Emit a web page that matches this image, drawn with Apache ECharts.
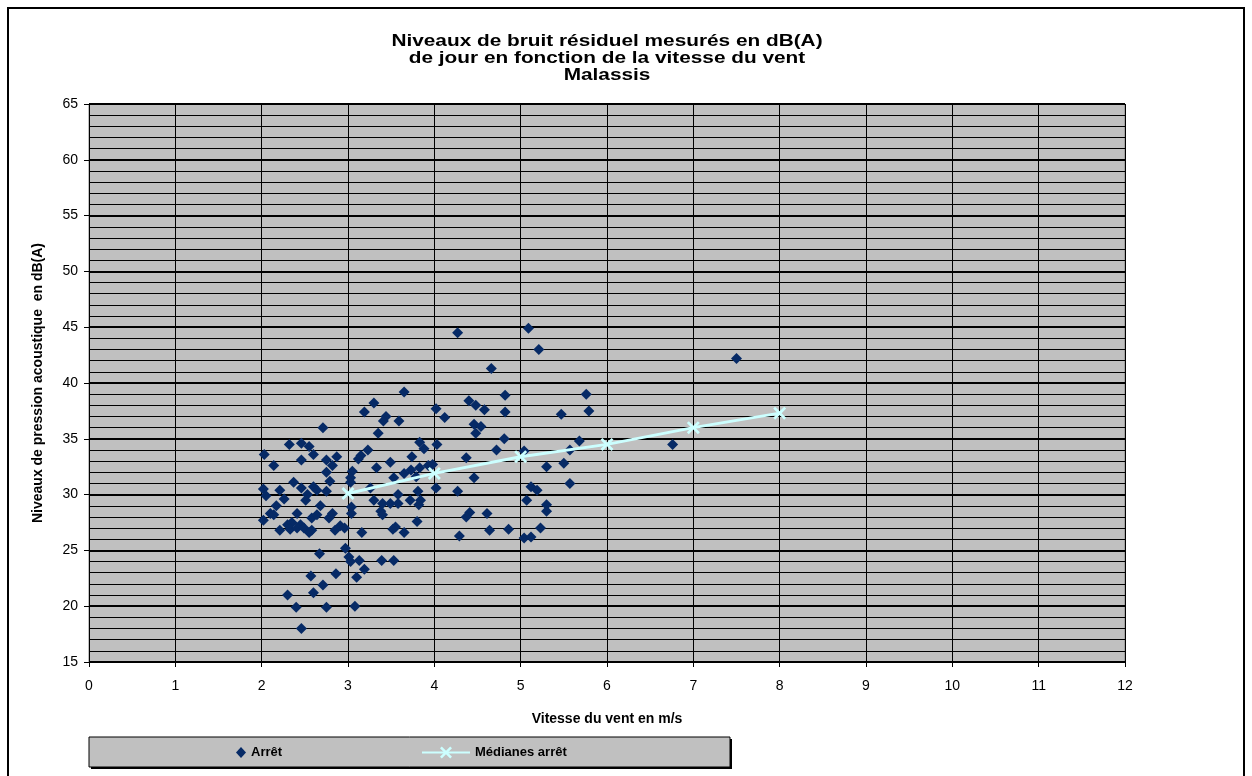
<!DOCTYPE html>
<html>
<head>
<meta charset="utf-8">
<script src="https://cdn.jsdelivr.net/npm/echarts@6/dist/echarts.min.js"></script>
<style>
  html, body { margin: 0; padding: 0; background: #ffffff; }
  #chart { width: 1252px; height: 776px; }
</style>
</head>
<body>
<div id="chart"></div>
<script>
// Wind speed (m/s) of each "Arrêt" measurement
const arretSpeed = [
  2.71, 2.32, 2.46, 2.55, 2.60, 2.03, 2.14, 2.46, 2.75, 2.87, 2.82, 2.75, 2.79, 2.37, 2.46,
  2.60, 2.64, 2.02, 2.05, 2.21, 2.26, 2.53, 2.51, 2.75, 2.17, 2.68, 2.10, 2.14, 2.02, 2.41,
  2.58, 2.64, 2.78, 2.82, 2.30, 2.35, 2.45, 2.33, 2.21, 2.41, 2.49, 2.55, 2.58, 2.85, 2.91,
  2.96, 2.67, 2.97, 3.01, 3.03, 2.57, 2.86, 2.71, 2.60, 2.30, 2.40, 2.75, 3.08, 2.46, 3.10,
  3.65, 3.30, 3.19, 3.44, 3.41, 3.59, 4.02, 4.12, 3.35, 3.83, 3.88, 4.03, 3.23, 3.15, 3.12,
  3.74, 3.49, 3.33, 3.05, 3.03, 3.03, 3.53, 3.65, 3.73, 3.79, 3.93, 3.98, 3.26, 3.30, 3.40,
  3.49, 3.58, 3.58, 3.72, 3.81, 3.84, 3.82, 4.02, 3.38, 3.40, 3.04, 3.04, 3.80, 3.16, 3.52,
  3.55, 3.65, 3.13, 3.19, 3.39, 3.53, 3.83,
  4.27, 5.09, 5.21, 4.66, 4.82, 4.40, 4.48, 4.58, 4.82, 4.46, 4.54, 4.48, 4.81, 4.72, 4.37,
  5.04, 4.46, 4.27, 5.12, 5.19, 5.07, 4.41, 4.37, 4.61, 4.29, 4.64, 4.86, 5.04, 5.12, 5.23,
  7.50, 5.76, 5.79, 5.47, 5.68, 5.57, 6.76, 5.50, 5.30, 5.57, 5.30, 5.30
];
// Measured residual noise level (dB(A)) for each point above
const arretLevel = [
  36.0, 34.5, 34.6, 34.3, 33.6, 33.6, 32.6, 33.1, 33.1, 33.4, 32.6, 32.0, 31.2, 31.1, 30.6,
  30.7, 30.4, 30.5, 29.9, 30.4, 29.6, 30.0, 29.5, 30.3, 29.0, 29.0, 28.3, 28.2, 27.7, 28.3,
  27.9, 28.2, 27.9, 28.3, 27.3, 27.5, 27.3, 26.9, 26.8, 27.0, 27.0, 26.6, 26.8, 26.8, 27.2,
  27.0, 24.7, 25.2, 24.4, 24.0, 22.7, 22.9, 21.9, 21.2, 21.0, 19.9, 19.9, 20.0, 18.0, 22.6,
  39.2, 38.2, 37.4, 37.0, 36.6, 36.6, 37.7, 36.9, 35.5, 34.7, 34.1, 34.5, 34.0, 33.5, 33.2,
  33.4, 32.9, 32.4, 32.1, 31.5, 31.1, 31.5, 31.9, 32.2, 31.6, 32.6, 32.7, 30.6, 29.5, 29.2,
  29.2, 30.0, 29.2, 29.5, 30.3, 29.5, 29.1, 30.6, 28.5, 28.2, 28.9, 28.3, 27.6, 26.6, 26.9,
  27.1, 26.6, 24.1, 23.3, 24.1, 24.1, 32.4,
  44.5, 44.9, 43.0, 41.3, 38.9, 38.4, 38.0, 37.6, 37.4, 36.3, 36.1, 35.5, 35.0, 34.0, 33.3,
  33.9, 31.5, 30.3, 30.7, 30.4, 29.5, 28.4, 28.0, 28.3, 26.3, 26.8, 26.9, 26.1, 26.2, 27.0,
  42.2, 39.0, 37.5, 37.2, 34.8, 34.0, 34.5, 32.8, 32.5, 31.0, 29.1, 28.5
];
// Median level per integer wind speed class
const medianSpeed = [3, 4, 5, 6, 7, 8];
const medianLevel = [30.1, 31.9, 33.4, 34.5, 36.0, 37.3];

const titleLines = [
  'Niveaux de bruit résiduel mesurés en dB(A)',
  'de jour en fonction de la vitesse du vent',
  'Malassis'
];
const xAxisTitle = 'Vitesse du vent en m/s';
const yAxisTitle = 'Niveaux de pression acoustique  en dB(A)';
const seriesNames = ['Arrêt', 'Médianes arrêt'];

const FONT = '"Liberation Sans", Arial, Helvetica, sans-serif';
const ICE = '#CCFFFF';
const NAVY = '#062a66';
// filled "x" marker
const CROSS = 'path://M0,1.5L1.5,0L5,3.5L8.5,0L10,1.5L6.5,5L10,8.5L8.5,10L5,6.5L1.5,10L0,8.5L3.5,5Z';

const chart = echarts.init(document.getElementById('chart'), null, { renderer: 'canvas' });

chart.setOption({
  animation: false,
  backgroundColor: '#ffffff',
  graphic: [
    {
      type: 'rect', z: 0, silent: true,
      shape: { x: 8, y: 8, width: 1236, height: 830 },
      style: { fill: 'none', stroke: '#000', lineWidth: 2 }
    },
    {
      type: 'text', z: 5, silent: true,
      x: 607, y: 33, scaleX: 1.3,
      style: {
        text: titleLines.join('\n'),
        fill: '#000',
        font: 'bold 16px ' + FONT,
        align: 'center',
        verticalAlign: 'top',
        lineHeight: 17
      }
    },
    {
      type: 'rect', z: 0, silent: true,
      shape: { x: 91, y: 739, width: 641, height: 30 },
      style: { fill: '#000' }
    },
    {
      type: 'rect', z: 1, silent: true,
      shape: { x: 89, y: 737, width: 641, height: 30 },
      style: { fill: '#C0C0C0', stroke: '#000', lineWidth: 1 }
    }
  ],
  grid: {
    left: 89, right: 127, top: 104, bottom: 114,
    show: true,
    backgroundColor: '#C0C0C0',
    borderColor: '#808080',
    borderWidth: 1
  },
  xAxis: {
    type: 'value',
    min: 0, max: 12, interval: 1,
    name: xAxisTitle,
    nameLocation: 'middle',
    nameGap: 50,
    nameTextStyle: { fontFamily: FONT, fontSize: 14, fontWeight: 'bold', color: '#000' },
    axisLine: { show: true, onZero: false, lineStyle: { color: '#000', width: 1 } },
    axisTick: { show: true, inside: false, length: 5, lineStyle: { color: '#000' } },
    axisLabel: { fontFamily: FONT, fontSize: 14, color: '#000', margin: 17 },
    splitLine: { show: true, lineStyle: { color: '#000', width: 1 } }
  },
  yAxis: {
    type: 'value',
    min: 15, max: 65, interval: 5,
    name: yAxisTitle,
    nameLocation: 'middle',
    nameGap: 44,
    nameTextStyle: { fontFamily: FONT, fontSize: 14, fontWeight: 'bold', color: '#000' },
    axisLine: { show: true, onZero: false, lineStyle: { color: '#000', width: 1 } },
    axisTick: { show: true, inside: false, length: 5, lineStyle: { color: '#000' } },
    axisLabel: { fontFamily: FONT, fontSize: 14, color: '#000', margin: 11 },
    splitLine: { show: true, lineStyle: { color: '#000', width: 2 } },
    minorTick: { show: false, splitNumber: 5 },
    minorSplitLine: { show: true, lineStyle: { color: '#000', width: 1 } }
  },
  legend: [
    {
      data: [seriesNames[0]],
      left: 236, top: 746, padding: 0,
      itemWidth: 10, itemHeight: 11,
      selectedMode: false,
      textStyle: { fontFamily: FONT, fontSize: 13, fontWeight: 'bold', color: '#000' }
    },
    {
      data: [seriesNames[1]],
      left: 421, top: 746, padding: 0,
      itemWidth: 48, itemHeight: 15,
      selectedMode: false,
      textStyle: { fontFamily: FONT, fontSize: 13, fontWeight: 'bold', color: '#000' }
    }
  ],
  series: [
    {
      name: seriesNames[0],
      type: 'scatter',
      symbol: 'diamond',
      symbolSize: 11,
      itemStyle: { color: NAVY, opacity: 1 },
      data: arretSpeed.map((s, i) => [s, arretLevel[i]]),
      z: 3
    },
    {
      name: seriesNames[1],
      type: 'line',
      symbol: CROSS,
      symbolSize: 13,
      showAllSymbol: true,
      lineStyle: { color: ICE, width: 3 },
      itemStyle: { color: ICE, borderWidth: 0 },
      data: medianSpeed.map((s, i) => [s, medianLevel[i]]),
      z: 4
    }
  ]
});
</script>
</body>
</html>
